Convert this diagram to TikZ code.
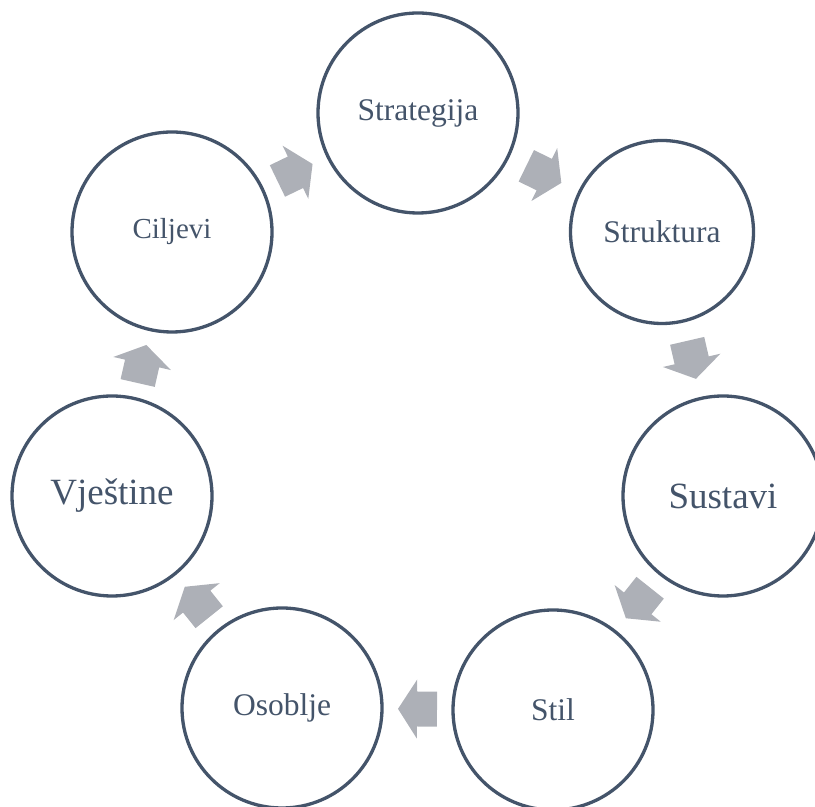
\documentclass[tikz,border=0pt]{standalone}
\usepackage{fontspec}
\setmainfont{Liberation Serif}
\usetikzlibrary{calc}
\definecolor{ringcol}{RGB}{68,84,106}
\definecolor{arrowcol}{RGB}{173,176,183}
\tikzset{
  ring/.style={circle, draw=ringcol, line width=3.3bp, fill=white, inner sep=0pt,
    minimum size=200bp, text=ringcol, font=\fontsize{31.5bp}{36bp}\selectfont},
  arrowfill/.style={fill=arrowcol}
}
\newcommand{\blockarrow}[3]{%
  \path (#1) -- coordinate[pos=0.5] (#3) (#2);
  \fill[arrowfill] let \p1=($(#2.center)-(#1.center)$), \n1={atan2(\y1,\x1)} in
    ($(#3)+(\n1:-19.5bp)+(\n1+90:17.5bp)$) --
    ($(#3)+(\n1:0.5bp)+(\n1+90:17.5bp)$) --
    ($(#3)+(\n1:0.5bp)+(\n1+90:29.5bp)$) --
    ($(#3)+(\n1:19.5bp)$) --
    ($(#3)+(\n1:0.5bp)+(\n1-90:29.5bp)$) --
    ($(#3)+(\n1:0.5bp)+(\n1-90:17.5bp)$) --
    ($(#3)+(\n1:-19.5bp)+(\n1-90:17.5bp)$) -- cycle;
}
\begin{document}
\begin{tikzpicture}[x=1bp,y=1bp]
\useasboundingbox (0,0) rectangle (815,807);
\node[ring] (strat) at (418,694) {Strategija};
\node[ring, minimum size=183bp] (strukt) at (662,575) {Struktura};
\node[ring, font=\fontsize{37bp}{42bp}\selectfont] (sust) at (723,311) {Sustavi};
\node[ring] (stil) at (553,97) {Stil};
\node[ring] (osob) at (282,99) {Osoblje};
\node[ring, font=\fontsize{37bp}{42bp}\selectfont] (vjest) at (112,311) {Vještine};
\node[ring, font=\fontsize{29bp}{34bp}\selectfont] (cilj) at (172,575) {Ciljevi};
\blockarrow{strat}{strukt}{m1}
\blockarrow{strukt}{sust}{m2}
\blockarrow{sust}{stil}{m3}
\blockarrow{stil}{osob}{m4}
\blockarrow{osob}{vjest}{m5}
\blockarrow{vjest}{cilj}{m6}
\blockarrow{cilj}{strat}{m7}
\end{tikzpicture}
\end{document}
